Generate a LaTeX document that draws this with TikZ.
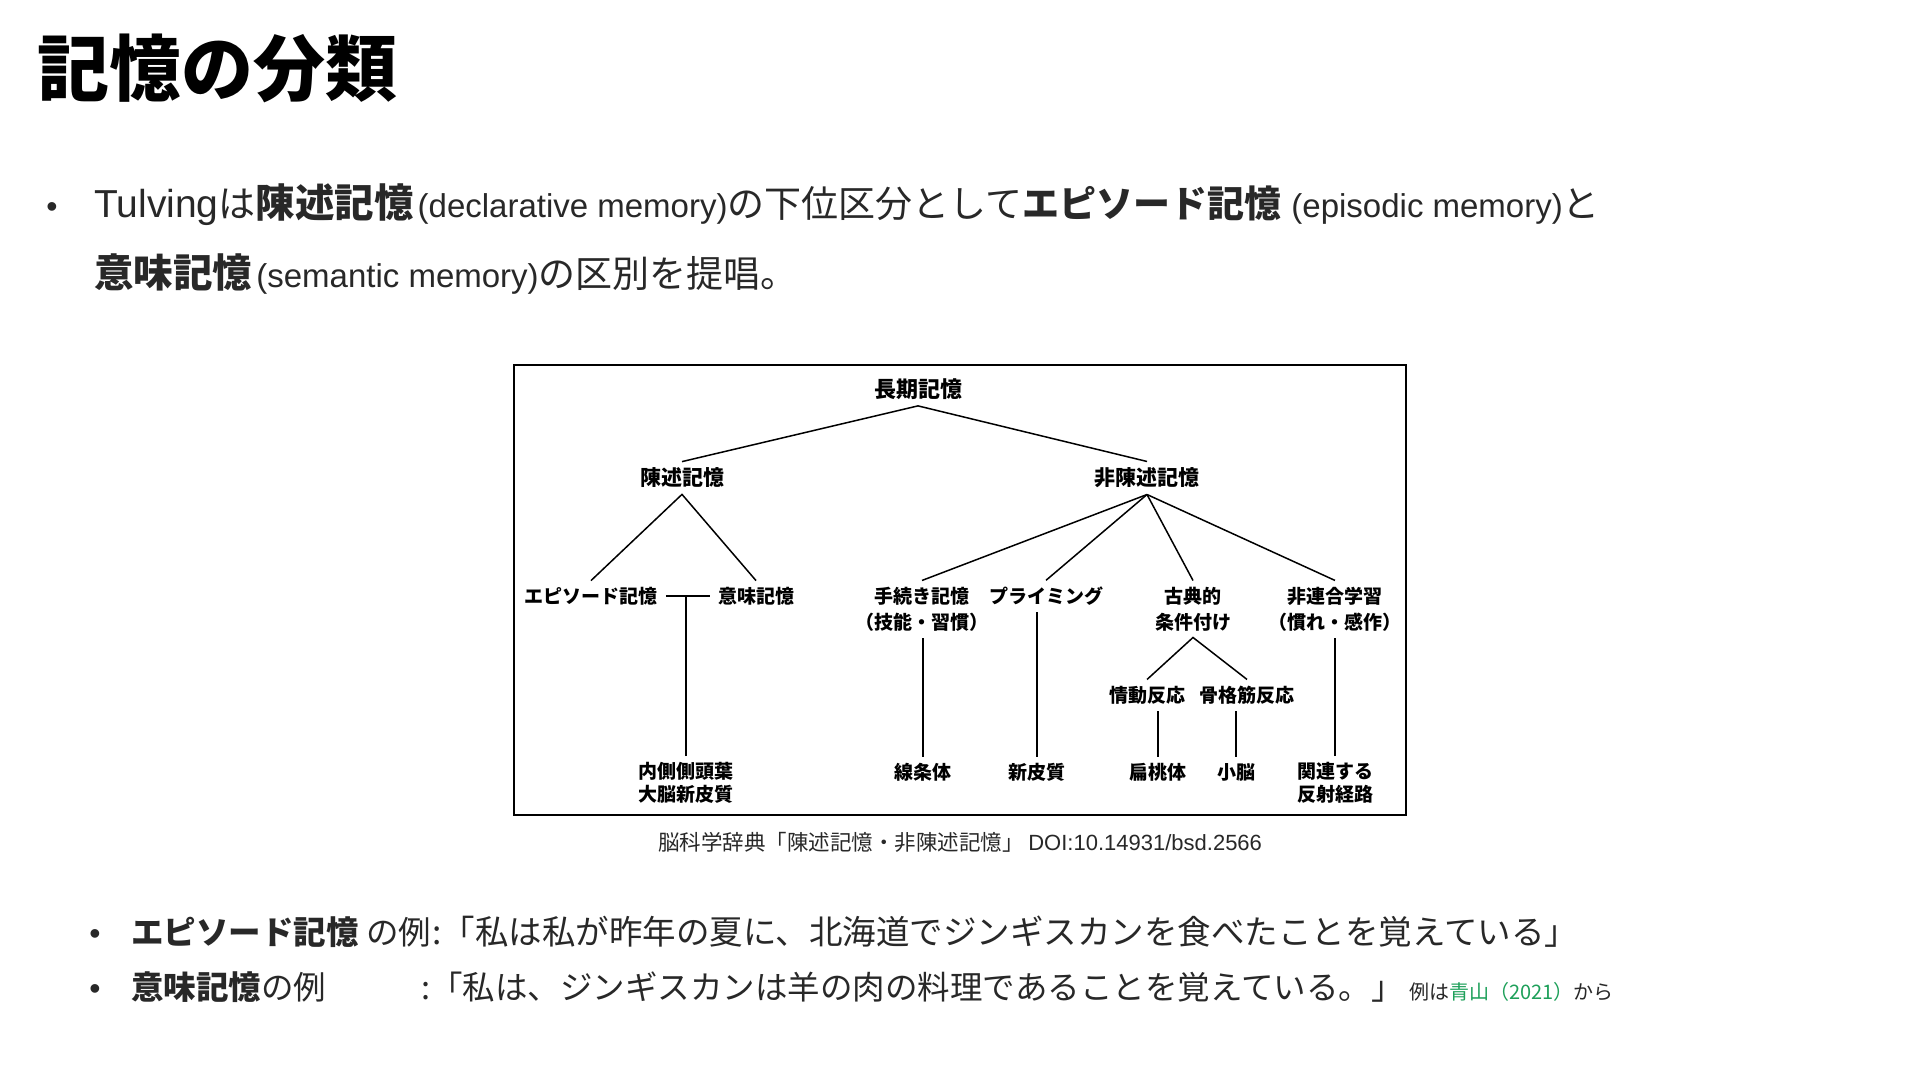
\documentclass[tikz,border=0pt]{standalone}
\usepackage{fontspec}
\setmainfont{Noto Sans CJK JP}
\newfontfamily\latfont{Liberation Sans}
\usepackage{xcolor}
\definecolor{bodytext}{RGB}{40,40,40}
\definecolor{refgreen}{RGB}{30,160,90}
\newcommand{\paren}[1]{{\latfont\fontsize{16.5}{20}\selectfont #1}}
\newcommand{\keyterm}[1]{{\bfseries\fontsize{19.75}{22}\selectfont #1}}

\begin{document}
\begin{tikzpicture}[x=0.5pt, y=-0.5pt,
    title/.style={anchor=base west, inner sep=0pt, font=\fontsize{36}{40}\selectfont\bfseries},
    body/.style={anchor=base west, inner sep=0pt, text=bodytext, font=\fontsize{18.5}{22}\selectfont},
    example/.style={anchor=base west, inner sep=0pt, text=bodytext, font=\fontsize{16.25}{20}\selectfont},
    dot/.style={anchor=base, inner sep=0pt, text=bodytext, font=\latfont\fontsize{16}{20}\selectfont},
    lbl/.style={inner xsep=4pt, inner ysep=3pt, align=center, font=\fontsize{9.5}{13}\selectfont\bfseries},
    toplbl/.style={lbl, font=\fontsize{10.5}{13}\selectfont\bfseries},
    leaf/.style={lbl, font=\fontsize{9.5}{11.5}\selectfont\bfseries},
    link/.style={line width=0.75pt}]
  \useasboundingbox[fill=white] (0,0) rectangle (1920,1080);

  % heading and intro
  \node[title] (head) at (37,96) {記憶の分類};
  \node[dot] (dot1) at (52,218) {•};
  \node[body] (intro1) at (94,218) {{\latfont\fontsize{19.5}{22}\selectfont Tulving}は\keyterm{陳述記憶}\hspace{2pt}\paren{(declarative memory)}の下位区分として\textbf{エピソード記憶}\hspace{5pt}\paren{(episodic memory)}と};
  \node[body] (intro2) at (94,288) {\keyterm{意味記憶}\hspace{2pt}\paren{(semantic memory)}の区別を提唱。};

  % tree
  \draw[line width=1pt] (514,365) rectangle (1406,815);
  \node[toplbl, font=\fontsize{11}{13}\selectfont\bfseries] (ltm) at (918,389) {長期記憶};
  \node[toplbl] (decl) at (682,478) {陳述記憶};
  \node[toplbl] (nondecl) at (1147,478) {非陳述記憶};
  \node[lbl] (epi) at (591,596) {エピソード記憶};
  \node[lbl] (sem) at (756,596) {意味記憶};
  \node[lbl] (proc) at (922,609) {手続き記憶\\（技能・習慣）};
  \node[lbl] (prim) at (1046,596) {プライミング};
  \node[lbl] (cond) at (1193,609) {古典的\\条件付け};
  \node[lbl] (nonassoc) at (1335,609) {非連合学習\\（慣れ・感作）};
  \node[lbl] (emo) at (1147,695) {情動反応};
  \node[lbl] (skel) at (1247,695) {骨格筋反応};
  \node[leaf] (mtl) at (686,783) {内側側頭葉\\大脳新皮質};
  \node[leaf] (stri) at (923,772) {線条体};
  \node[leaf] (neo) at (1037,772) {新皮質};
  \node[leaf] (amy) at (1158,772) {扁桃体};
  \node[leaf] (cere) at (1236,772) {小脳};
  \node[leaf] (refl) at (1335,783) {関連する\\反射経路};

  \draw[link] (decl.north) -- (ltm.south) -- (nondecl.north);
  \draw[link] (epi.north) -- (decl.south) -- (sem.north);
  \draw[link] (epi.east) -- (sem.west);
  \draw[link] (mtl.north) -- (mtl.north |- epi.east);
  \foreach \c in {proc,prim,cond,nonassoc}
    \draw[link] (nondecl.south) -- (\c.north);
  \draw[link] (emo.north) -- (cond.south) -- (skel.north);
  \foreach \a/\b in {proc/stri, prim/neo, emo/amy, skel/cere, nonassoc/refl}
    \draw[link] (\b.north) -- (\b.north |- \a.south);

  \node[anchor=base, inner sep=0pt, text=bodytext, font=\fontsize{10.75}{13}\selectfont] (cap) at (960,850)
    {脳科学辞典「陳述記憶・非陳述記憶」 {\latfont\fontsize{11}{13}\selectfont DOI:10.14931/bsd.2566}};

  % examples
  \node[dot] (dot2) at (95,944) {•};
  \node[example] (epiex) at (131,944) {\textbf{エピソード記憶} の例};
  \node[example, font=\fontsize{16.75}{20}\selectfont] (epiq) at (432,944) {:「私は私が昨年の夏に、北海道でジンギスカンを食べたことを覚えている」};
  \node[dot] (dot3) at (95,999) {•};
  \node[example] (semex) at (131,999) {\textbf{意味記憶}の例};
  \node[example] (semq) at (421,999) {:「私は、ジンギスカンは羊の肉の料理であることを覚えている。」};
  \node[anchor=base west, inner sep=0pt, text=bodytext, font=\fontsize{10}{12}\selectfont] (src) at (1409,999)
    {例は{\color{refgreen}青山（2021）}から};
\end{tikzpicture}
\end{document}
